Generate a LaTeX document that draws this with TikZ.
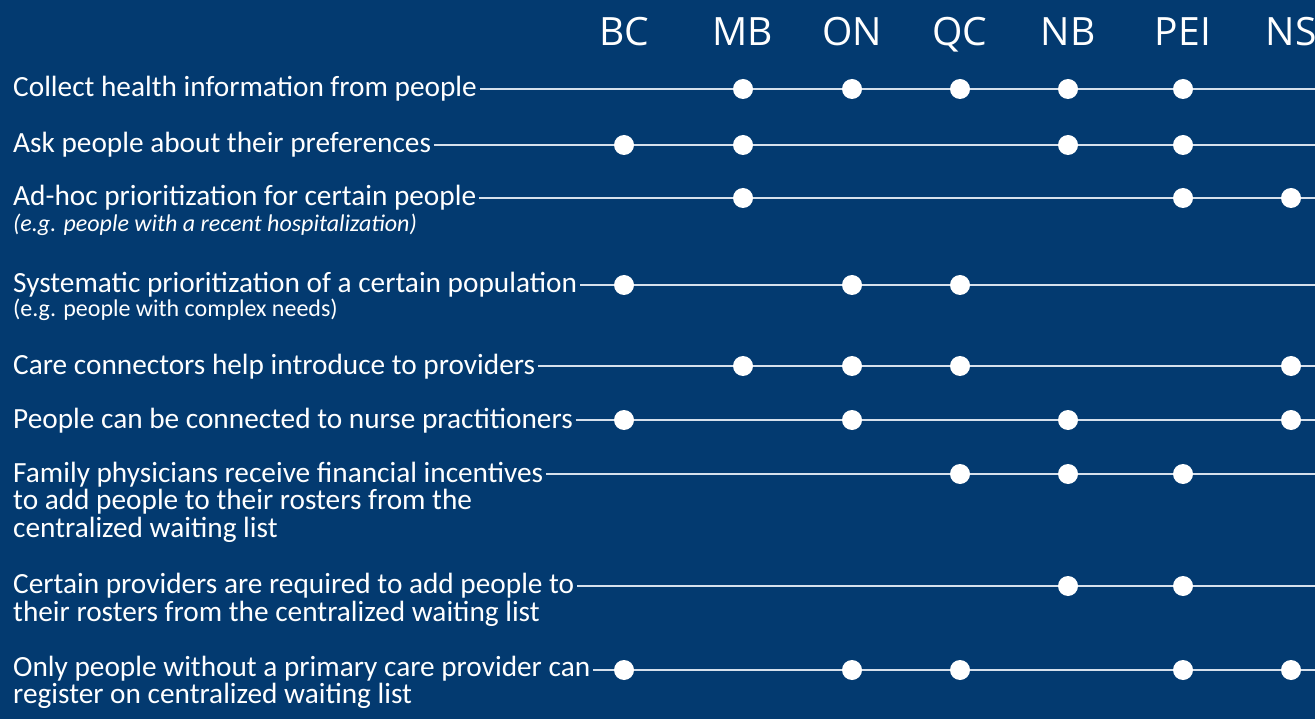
\documentclass[tikz,border=0pt]{standalone}
\usepackage{fontspec}
\setmainfont{Carlito}
\newfontfamily\headfont{Open Sans}
\usetikzlibrary{positioning}
\definecolor{bgblue}{RGB}{3,58,112}
\definecolor{rulecol}{RGB}{214,224,236}

\begin{document}
\begin{tikzpicture}[
		x=1pt, y=-1pt,
		itemtext/.style={anchor=base west, inner sep=0pt, text=white, align=left, font=\fontsize{29.3}{27.5}\selectfont},
		subnote/.style={anchor=base west, inner sep=0pt, text=white, font=\fontsize{24}{28}\selectfont},
		province/.style={anchor=base, inner sep=0pt, text=white, font=\headfont\fontsize{39}{46}\selectfont},
		rowline/.style={draw=rulecol, line width=2pt},
		dot/.style={circle, fill=white, inner sep=0pt, minimum size=20pt},
	]
		\fill[bgblue] (0,0) rectangle (1315,719);
		\clip (0,0) rectangle (1315,719);
		
		% province columns
		\node[province] (BC) at (624,46) {BC};
		\node[province] (MB) at (743,46) {MB};
		\node[province] (ON) at (852,46) {ON};
		\node[province] (QC) at (960,46) {QC};
		\node[province] (NB) at (1068,46) {NB};
		\node[province] (PEI) at (1183,46) {PEI};
		\node[province] (NS) at (1291,46) {NS};
		
		% row texts (base = last line)
		\node[itemtext] (r1) at (13,97) {Collect health information from people};
		\node[itemtext] (r2) at (13,153) {Ask people about their preferences};
		\node[itemtext] (r3) at (13,206) {Ad-hoc prioritization for certain people};
		\node[subnote] (r3b) at (13,232) {\itshape (e.g. people with a recent hospitalization)};
		\node[itemtext] (r4) at (13,293) {Systematic prioritization of a certain population};
		\node[subnote] (r4b) at (13,317) {(e.g. people with complex needs)};
		\node[itemtext] (r5) at (13,374) {Care connectors help introduce to providers};
		\node[itemtext] (r6) at (13,428) {People can be connected to nurse practitioners};
		\node[itemtext] (r7) at (13,537) {Family physicians receive financial incentives\ \\to add people to their rosters from the\\centralized waiting list};
		\node[itemtext] (r8) at (13,621) {Certain providers are required to add people to\\their rosters from the centralized waiting list};
		\node[itemtext, font=\fontsize{29.3}{25}\selectfont] (r9) at (13,703) {Only people without a primary care provider can\\register on centralized waiting list};
		
		% right ends of the rows
		\coordinate (e1) at (1330,89);
		\coordinate (e2) at (1330,145);
		\coordinate (e3) at (1330,198);
		\coordinate (e4) at (1330,285);
		\coordinate (e5) at (1330,366);
		\coordinate (e6) at (1330,420);
		\coordinate (e7) at (1330,474);
		\coordinate (e8) at (1330,586);
		\coordinate (e9) at (1330,670);
		
		\draw[rowline] ([xshift=3pt]r1.east |- e1) -- (e1);
		\draw[rowline] ([xshift=3pt]r2.east |- e2) -- (e2);
		\draw[rowline] ([xshift=3pt]r3.east |- e3) -- (e3);
		\draw[rowline] ([xshift=3pt]r4.east |- e4) -- (e4);
		\draw[rowline] ([xshift=3pt]r5.east |- e5) -- (e5);
		\draw[rowline] ([xshift=3pt]r6.east |- e6) -- (e6);
		\draw[rowline] ([xshift=3pt]r7.east |- e7) -- (e7);
		\draw[rowline] ([xshift=3pt]r8.east |- e8) -- (e8);
		\draw[rowline] ([xshift=3pt]r9.east |- e9) -- (e9);
		
		% dots
		\foreach \c in {MB,ON,QC,NB,PEI} \node[dot] (d1\c) at (\c |- e1) {};
		\foreach \c in {BC,MB,NB,PEI} \node[dot] (d2\c) at (\c |- e2) {};
		\foreach \c in {MB,PEI,NS} \node[dot] (d3\c) at (\c |- e3) {};
		\foreach \c in {BC,ON,QC} \node[dot] (d4\c) at (\c |- e4) {};
		\foreach \c in {MB,ON,QC,NS} \node[dot] (d5\c) at (\c |- e5) {};
		\foreach \c in {BC,ON,NB,NS} \node[dot] (d6\c) at (\c |- e6) {};
		\foreach \c in {QC,NB,PEI} \node[dot] (d7\c) at (\c |- e7) {};
		\foreach \c in {NB,PEI} \node[dot] (d8\c) at (\c |- e8) {};
		\foreach \c in {BC,ON,QC,PEI,NS} \node[dot] (d9\c) at (\c |- e9) {};
	\end{tikzpicture}
\end{document}
